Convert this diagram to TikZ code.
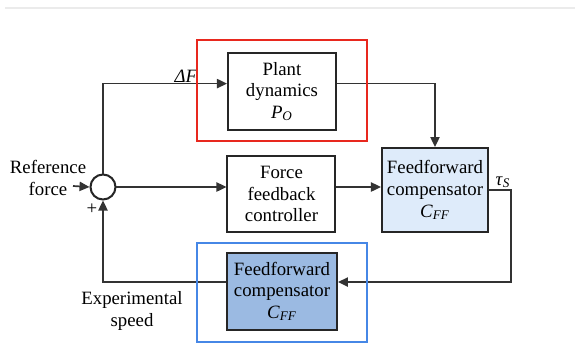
\documentclass[tikz,border=0pt]{standalone}
\usepackage{fontspec}
\setmainfont{Liberation Serif}
\usetikzlibrary{positioning, arrows.meta, calc}
\definecolor{ffblue}{RGB}{222,235,250}
\definecolor{ffdark}{RGB}{155,186,226}
\definecolor{hlred}{RGB}{232,40,30}
\definecolor{hlblue}{RGB}{70,135,230}
\tikzset{
  blk/.style={
    draw=black!85,
    line width=1pt,
    align=center,
    font=\rmfamily\fontsize{9.4}{10.8}\selectfont,
    inner sep=1pt,
  },
  % white = controller / plant, blue = feedforward
  plainblk/.style={blk, fill=white, minimum width=54pt, minimum height=38.5pt},
  ffblk/.style={blk, fill=ffblue, minimum width=53pt, minimum height=42pt},
  ffdarkblk/.style={blk, fill=ffdark, minimum width=55pt, minimum height=38.5pt},
  sumnode/.style={circle, draw=black!85, line width=1pt, fill=white,
    minimum size=12.5pt, inner sep=0pt},
  sig/.style={line width=0.85pt, draw=black!80},
  sigarr/.style={sig, -{Triangle[length=5pt, width=4.6pt]}},
  lbl/.style={font=\rmfamily\fontsize{9.4}{10.8}\selectfont, inner sep=1pt, align=center},
  redframe/.style={draw=hlred, line width=1.4pt},
  blueframe/.style={draw=hlblue, line width=1.4pt},
}

\begin{document}
\begin{tikzpicture}[x=0.5pt, y=-0.5pt]
  \useasboundingbox (0,0) rectangle (575,350);
  \draw[black!8, line width=1pt] (5,8) -- (575,8);

  \node[sumnode] (sum) at (103,187) {};
  \node[plainblk] (plant) at (282,91.5) {Plant\\dynamics\\\textit{P}\textsubscript{\textit{O}}};
  \node[plainblk, minimum height=38pt] (ffc) at (281.5,194) {Force\\feedback\\controller};
  \node[ffblk] (comp) at (435,190) {Feedforward\\compensator\\\textit{C}\textsubscript{\textit{FF}}};
  \node[ffdarkblk] (compfb) at (282,291.5) {Feedforward\\compensator\\\textit{C}\textsubscript{\textit{FF}}};

  \node[lbl] (ref) at (48,178) {Reference\\force};
  \node[lbl] (speed) at (132,311) {Experimental\\speed};
  \node[lbl] (dF) at (186,76) {\textit{ΔF}};
  \node[lbl] (tau) at (503,182) {\textit{τ}\textsubscript{\textit{S}}};
  \node[lbl] (plus) at (92,209) {+};
  \coordinate (reftail) at (73,186);

  \draw[sigarr] (reftail) -- (sum.west);
  \draw[sigarr] (sum.north) |- ($(plant.north west)!0.4!(plant.south west)$);
  \draw[sigarr] ($(plant.north east)!0.4!(plant.south east)$) -| (comp.north);
  \draw[sigarr] (sum.east) -- (sum.east -| ffc.west);
  \draw[sigarr] (sum.east -| ffc.east) -- (sum.east -| comp.west);
  \draw[sigarr] (comp.east) -- ++(22,0) |- ($(compfb.north east)!0.38!(compfb.south east)$);
  \draw[sigarr] ($(compfb.north west)!0.38!(compfb.south west)$) -| (sum.south);

  \draw[redframe] (197,40) rectangle (367,141);
  \draw[blueframe] (197,243) rectangle (367,342);
\end{tikzpicture}
\end{document}
